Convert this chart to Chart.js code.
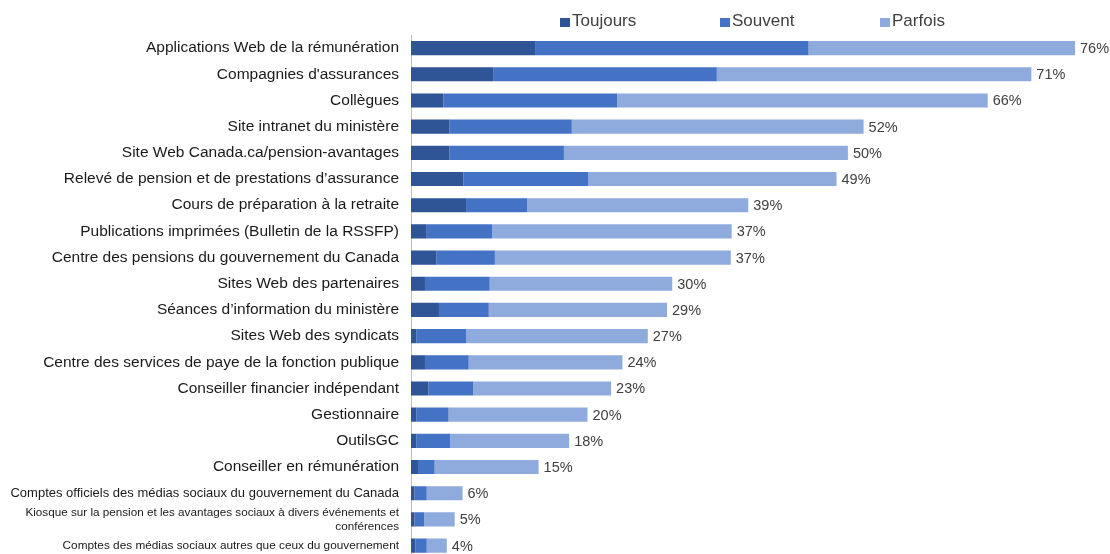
<!DOCTYPE html>
<html lang="fr">
<head>
<meta charset="UTF-8">
<title>Sources d'information sur la pension</title>
<script src="https://cdn.jsdelivr.net/npm/chart.js@4"></script>
<style>
  html, body { margin: 0; padding: 0; background: #fff; overflow: hidden; }
  .wrap { position: relative; width: 1110px; height: 554px; overflow: hidden; }
  #legend {
    position: absolute; left: 560px; top: 11px;
    display: flex; font-family: 'Liberation Sans', Arial, sans-serif;
    font-size: 17px; color: #404040;
  }
  #legend .item { width: 160px; display: flex; align-items: center; }
  #legend .box { width: 10px; height: 9px; margin-right: 2px; margin-top: 2px; }
</style>
</head>
<body>
<div class="wrap">
  <canvas id="chart" width="1110" height="580"></canvas>
  <div id="legend"></div>
</div>
<script>
// ---------------------------------------------------------------------------
// Data (percentages)
// ---------------------------------------------------------------------------
const categories = [
  'Applications Web de la rémunération',
  "Compagnies d'assurances",
  'Collègues',
  'Site intranet du ministère',
  'Site Web Canada.ca/pension-avantages',
  'Relevé de pension et de prestations d\u2019assurance',
  'Cours de préparation à la retraite',
  'Publications imprimées (Bulletin de la RSSFP)',
  'Centre des pensions du gouvernement du Canada',
  'Sites Web des partenaires',
  'Séances d\u2019information du ministère',
  'Sites Web des syndicats',
  'Centre des services de paye de la fonction publique',
  'Conseiller financier indépendant',
  'Gestionnaire',
  'OutilsGC',
  'Conseiller en rémunération',
  'Comptes officiels des médias sociaux du gouvernement du Canada',
  ['Kiosque sur la pension et les avantages sociaux à divers événements et', 'conférences'],
  'Comptes des médias sociaux autres que ceux du gouvernement'
];

const seriesNames = ['Toujours', 'Souvent', 'Parfois'];
const seriesColors = ['#2F5597', '#4472C4', '#8FAADC'];

const toujours = [14.2, 9.4, 3.7, 4.4, 4.4, 6.0, 6.3, 1.8, 2.9, 1.6, 3.2, 0.6, 1.6, 2.0, 0.6, 0.6, 0.8, 0.4, 0.4, 0.5];
const souvent  = [31.3, 25.6, 19.9, 14.0, 13.1, 14.3, 7.0, 7.5, 6.7, 7.4, 5.7, 5.7, 5.0, 5.1, 3.7, 3.9, 1.9, 1.4, 1.1, 1.3];
const parfois  = [30.5, 36.0, 42.4, 33.4, 32.5, 28.4, 25.3, 27.4, 27.0, 20.9, 20.4, 20.8, 17.6, 15.8, 15.9, 13.6, 11.9, 4.1, 3.5, 2.3];

const totalLabels = ['76%', '71%', '66%', '52%', '50%', '49%', '39%', '37%', '37%', '30%',
                     '29%', '27%', '24%', '23%', '20%', '18%', '15%', '6%', '5%', '4%'];

const FONT = "'Liberation Sans', Arial, sans-serif";
// the last three category labels are set smaller in the original
const smallFontSizes = { 17: 13, 18: 11.7, 19: 11.8 };

// ---------------------------------------------------------------------------
// HTML legend
// ---------------------------------------------------------------------------
const legendEl = document.getElementById('legend');
seriesNames.forEach((name, i) => {
  const item = document.createElement('div');
  item.className = 'item';
  item.innerHTML = `<span class="box" style="background:${seriesColors[i]}"></span><span>${name}</span>`;
  legendEl.appendChild(item);
});

// ---------------------------------------------------------------------------
// Total labels at the end of each stacked bar
// ---------------------------------------------------------------------------
const totalsPlugin = {
  id: 'totals',
  afterDatasetsDraw(chart) {
    const last = chart.data.datasets.length - 1;
    const meta = chart.getDatasetMeta(last);
    const ctx = chart.ctx;
    ctx.save();
    ctx.font = '14.5px ' + FONT;
    ctx.fillStyle = '#404040';
    ctx.textAlign = 'left';
    ctx.textBaseline = 'middle';
    meta.data.forEach((bar, i) => {
      ctx.fillText(totalLabels[i], bar.x + 5, bar.y + 1);
    });
    ctx.restore();
  }
};

const datasets = [toujours, souvent, parfois].map((data, i) => ({
  label: seriesNames[i],
  data,
  backgroundColor: seriesColors[i],
  borderWidth: 0,
  barPercentage: 0.54,
  categoryPercentage: 1
}));

new Chart(document.getElementById('chart'), {
  type: 'bar',
  data: { labels: categories, datasets },
  plugins: [totalsPlugin],
  options: {
    indexAxis: 'y',
    responsive: false,
    animation: false,
    layout: { padding: { top: 35, right: 0, bottom: 0, left: 0 } },
    plugins: {
      legend: { display: false },
      tooltip: { enabled: false }
    },
    scales: {
      x: {
        stacked: true,
        display: false,
        min: 0,
        max: 80
      },
      y: {
        stacked: true,
        afterFit(scale) { scale.width = 411; },
        grid: { display: false, drawTicks: false },
        border: { display: true, color: '#BFBFBF', width: 1 },
        ticks: {
          color: '#1a1a1a',
          padding: 12,
          autoSkip: false,
          font: ctx => ({
            family: FONT,
            size: smallFontSizes[ctx.index] || 15.5
          })
        }
      }
    }
  }
});
</script>
</body>
</html>
